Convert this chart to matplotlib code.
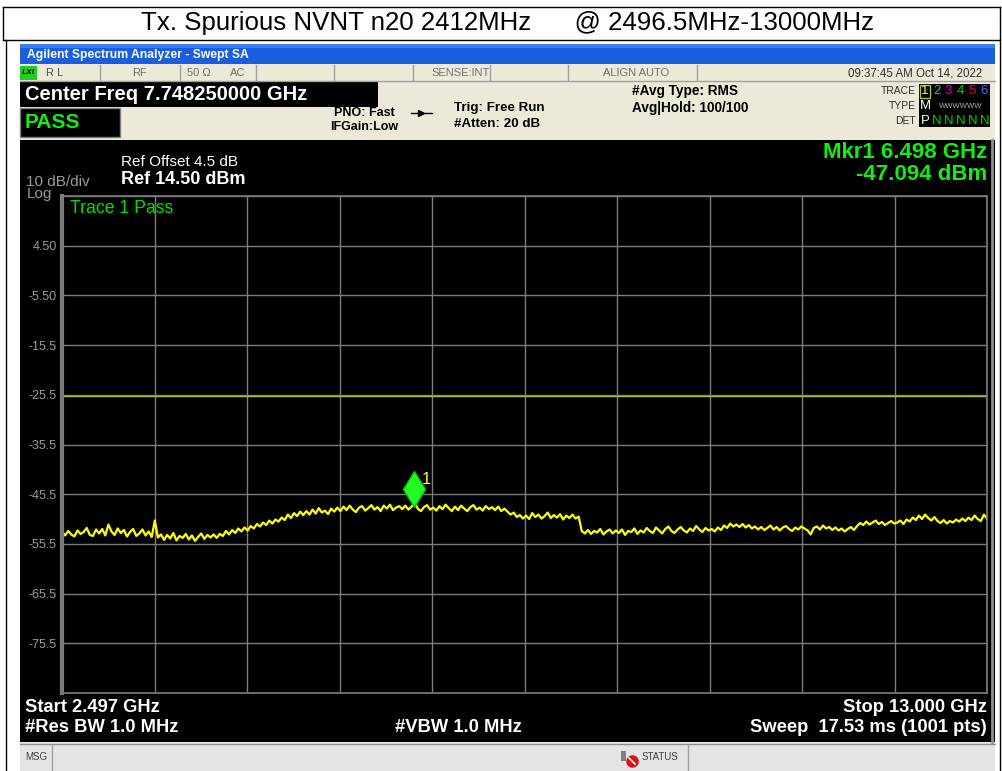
import numpy as np
import matplotlib
matplotlib.use("Agg")
import matplotlib.pyplot as plt
from matplotlib.patches import Rectangle
from matplotlib.transforms import offset_copy

plt.rcParams["font.family"] = ["Liberation Sans", "DejaVu Sans"]

# sweep settings
start_ghz = 2.497
stop_ghz = 13.000
ref_level = 14.5
db_per_div = 10
limit_dbm = -25.8
mkr_ghz = 6.498
mkr_dbm = -47.094

y_tick_values = [14.5, 4.5, -5.5, -15.5, -25.5, -35.5, -45.5, -55.5, -65.5, -75.5, -85.5]
y_tick_labels = ["", "4.50", "-5.50", "-15.5", "-25.5", "-35.5", "-45.5", "-55.5", "-65.5", "-75.5", ""]

# trace 1, estimated from the screen (300 evenly spaced samples across the span)
trace_dbm = [
    -53.0, -53.8, -52.9, -53.6, -54.0, -52.8, -53.5, -53.1, -52.3, -53.7,
    -53.9, -52.6, -53.4, -52.5, -53.8, -51.6, -53.0, -53.7, -52.4, -53.3,
    -52.7, -54.0, -53.1, -52.5, -53.9, -53.4, -52.6, -53.8, -53.0, -54.1,
    -50.8, -54.2, -53.6, -54.7, -53.7, -54.4, -53.3, -54.8, -53.9, -54.3,
    -53.5, -54.6, -53.8, -54.9, -54.1, -53.4, -54.5, -53.7, -54.2, -53.6,
    -54.3, -53.5, -53.9, -52.9, -53.6, -52.7, -53.3, -52.4, -53.0, -52.2,
    -52.8, -51.9, -52.4, -51.5, -52.0, -51.2, -51.7, -50.8, -51.4, -50.6,
    -51.0, -50.2, -50.7, -49.6, -50.3, -49.3, -49.9, -49.0, -49.7, -48.9,
    -49.6, -48.6, -49.4, -48.3, -49.2, -48.8, -49.5, -48.4, -49.0, -48.2,
    -48.9, -48.0, -48.7, -47.8, -48.6, -49.1, -48.2, -47.9, -48.8, -48.3,
    -47.7, -48.6, -48.1, -48.9, -47.8, -48.4, -47.6, -48.7, -48.2, -47.9,
    -48.5, -47.8, -48.6, -48.0, -47.1, -48.4, -48.9, -48.1, -47.7, -48.6,
    -48.2, -48.8, -47.9, -48.5, -47.6, -48.3, -48.9, -48.0, -48.7, -47.8,
    -48.4, -48.9, -48.1, -47.7, -48.6, -48.2, -48.8, -47.9, -48.5, -48.1,
    -48.7, -48.0, -48.9, -48.4, -49.0, -49.6, -49.2, -50.1, -49.7, -50.4,
    -49.8, -50.5, -49.3, -50.1, -49.6, -50.4, -49.9, -49.2, -50.3, -49.7,
    -50.2, -49.5, -50.6, -49.8, -50.3, -49.6, -50.4, -50.0, -52.9, -53.4,
    -52.7, -53.5, -52.9, -53.2, -52.5, -53.6, -53.0, -52.6, -53.4, -52.8,
    -53.3, -52.6, -53.7, -52.9, -53.1, -52.4, -53.5, -52.8, -53.2, -52.3,
    -52.9, -53.3, -52.2, -52.8, -53.4, -52.5, -52.0, -52.9, -53.3, -52.6,
    -52.1, -52.8, -53.2, -52.4, -52.9, -51.9, -52.6, -53.1, -52.3, -52.8,
    -52.5, -53.0, -52.2, -52.7, -51.8, -52.3, -51.4, -52.0, -51.6, -52.1,
    -51.5, -52.2, -51.7, -52.4, -52.0, -52.6, -52.1, -52.7, -52.3, -51.8,
    -52.6, -52.1, -52.8, -52.2, -51.9, -52.5, -52.9, -52.2, -52.6, -52.0,
    -52.4, -52.8, -53.6, -52.3, -52.0, -52.6, -51.8, -52.4, -52.1, -52.7,
    -52.2, -52.8, -52.4, -53.0, -52.5, -52.1, -52.7, -51.9, -51.3, -51.7,
    -51.0, -51.6, -51.2, -50.8, -51.5, -51.1, -51.7, -51.3, -50.9, -51.4,
    -51.2, -50.8, -51.5, -50.6, -51.0, -50.2, -50.7, -49.8, -50.5, -49.6,
    -50.3, -50.8, -50.1, -50.9, -51.3, -50.7, -51.4, -50.9, -51.2, -50.6,
    -51.0, -50.4, -50.9, -50.2, -50.7, -49.8, -50.5, -50.9, -49.6, -50.4,
]
trace_ghz = np.linspace(start_ghz, stop_ghz, len(trace_dbm))

BEIGE = "#ece9d8"
GRID = "#7c7c7c"
LABEL_GRAY = "#9a9a9a"
GREEN = "#10f010"
BIG = 13.2  # bottom annotation size

fig = plt.figure(figsize=(10.03, 7.71), dpi=100)

# background canvas in pixel coordinates (y down)
bg = fig.add_axes([0, 0, 1, 1])
bg.set_xlim(0, 1003)
bg.set_ylim(771, 0)
bg.axis("off")


def rect(x0, y0, x1, y1, fc, ec="none", lw=0):
    bg.add_patch(Rectangle((x0, y0), x1 - x0, y1 - y0, fc=fc, ec=ec, lw=lw))


def txt(x, y, s, size=9, color="black", ha="left", weight="normal", **kw):
    bg.text(x, y, s, fontsize=size, color=color, ha=ha, va="center",
            fontweight=weight, **kw)


# outer report frame + title
bg.plot([3, 1000], [7, 7], color="black", lw=1)
bg.plot([3, 1000], [40, 40], color="black", lw=1)
bg.plot([3, 3], [7, 40], color="black", lw=1)
bg.plot([6, 6], [40, 771], color="black", lw=1)
bg.plot([1000, 1000], [7, 771], color="black", lw=1)
txt(508, 23, "Tx. Spurious NVNT n20 2412MHz      @ 2496.5MHz-13000MHz", size=18.6, ha="center")

# analyzer window title bar
rect(20, 44, 995, 64, "#1a5ee0")
rect(20, 44, 995, 48, "#3d7cf0")
txt(27, 55, "Agilent Spectrum Analyzer - Swept SA", size=8.7, color="white", weight="bold")

# status row
rect(20, 64, 995, 81, BEIGE)
bg.plot([20, 995], [81, 81], color="#a0a0a0", lw=1)
rect(20, 66, 37, 80, "#20d020")
txt(22, 73, "LXI", size=6, weight="bold", style="italic")
for xd in [100, 180, 256, 334, 413, 490, 568, 697]:
    bg.plot([xd, xd], [65, 80], color="#a0a0a0", lw=1)
txt(46, 73, "R L", size=8, color="#505050")
txt(140, 73, "RF", size=8, color="#707070", ha="center")
txt(187, 73, "50 Ω", size=8, color="#707070")
txt(230, 73, "AC", size=8, color="#707070")
txt(431, 73, "SENSE:INT", size=8, color="#707070")
txt(603, 73, "ALIGN AUTO", size=8, color="#707070")
txt(982, 73, "09:37:45 AM Oct 14, 2022", size=8.3, color="#303030", ha="right")

# settings block
rect(20, 81, 995, 140, BEIGE)
rect(20, 82, 378, 107, "black")
txt(25, 94.5, "Center Freq 7.748250000 GHz", size=14.5, color="white", weight="bold")
rect(20, 108, 120, 137, "black", ec="#808080", lw=1)
txt(25, 122, "PASS", size=15, color=GREEN, weight="bold")
txt(364, 113, "PNO: Fast", size=9, weight="bold", ha="center")
txt(364, 127, "IFGain:Low", size=9, weight="bold", ha="center")
bg.plot([411, 432], [113, 113], color="black", lw=1)
bg.plot([421], [113], marker=">", color="black", ms=4)
txt(454, 108, "Trig: Free Run", size=9.6, weight="bold")
txt(454, 124, "#Atten: 20 dB", size=9.6, weight="bold")
txt(632, 91, "#Avg Type: RMS", size=9.8, weight="bold")
txt(632, 108, "Avg|Hold: 100/100", size=9.8, weight="bold")
txt(916, 91, "TRACE", size=7.5, color="#303030", ha="right")
txt(916, 106, "TYPE", size=7.5, color="#303030", ha="right")
txt(916, 121, "DET", size=7.5, color="#303030", ha="right")
rect(919, 84, 990, 127, "black")
rect(920, 85, 930, 98, "none", ec="#a0c040", lw=1)
trace_colors = ["#ffff00", "#00c8c8", "#d000d0", "#00d000", "#e00040", "#6a5cff"]
for k, c in enumerate(trace_colors):
    txt(925 + 11.8 * k, 91.5, str(k + 1), size=9.5, color=c, ha="center")
txt(925, 106, "M", size=9.5, color="white", ha="center")
txt(961, 106, "WWWWWW", size=5.5, color="#b0b0b0", ha="center")
txt(925, 121, "P", size=9.5, color="white", ha="center")
for k in range(5):
    txt(937 + 11.8 * k, 121, "N", size=9.5, color="#00d000", ha="center")

# black screen area
rect(20, 140, 995, 742, "black")
bg.plot([992, 992], [140, 742], color="#909090", lw=2)
txt(26, 182, "10 dB/div", size=11, color=LABEL_GRAY)
txt(27, 194, "Log", size=11, color=LABEL_GRAY)
txt(121, 162, "Ref Offset 4.5 dB", size=11, color="white")
txt(121, 180, "Ref 14.50 dBm", size=13, color="white", weight="bold")
txt(987, 152.5, "Mkr1 6.498 GHz", size=16, color=GREEN, weight="bold", ha="right")
txt(987, 174.5, "-47.094 dBm", size=16, color=GREEN, weight="bold", ha="right")

txt(25, 707, "Start 2.497 GHz", size=BIG, color="white", weight="bold")
txt(987, 707, "Stop 13.000 GHz", size=BIG, color="white", weight="bold", ha="right")
txt(25, 728, "#Res BW 1.0 MHz", size=BIG, color="white", weight="bold")
txt(395, 728, "#VBW 1.0 MHz", size=BIG, color="white", weight="bold")
txt(987, 728, "Sweep  17.53 ms (1001 pts)", size=BIG, color="white", weight="bold", ha="right")

# bottom message bar
rect(20, 742, 995, 771, "#e4e4e4")
bg.plot([20, 995], [744, 744], color="#909090", lw=1)
bg.plot([52, 52], [745, 771], color="#a0a0a0", lw=1)
bg.plot([688, 688], [745, 771], color="#a0a0a0", lw=1)
txt(25, 757, "MSG", size=7, color="#404040")
rect(621, 751, 626, 761, "#808080")
bg.plot([632], [761], marker="o", ms=8, color="#e01010")
bg.plot([629, 635], [758, 764], color="white", lw=1.2)
txt(642, 757, "STATUS", size=7, color="#404040")

# measurement graticule
ax = fig.add_axes([62 / 1003, (771 - 693) / 771, 925 / 1003, 497 / 771])
ax.set_facecolor("black")
ax.set_xlim(start_ghz, stop_ghz)
ax.set_ylim(ref_level - 10 * db_per_div, ref_level)
ax.set_xticks(np.linspace(start_ghz, stop_ghz, 11))
ax.set_yticks(y_tick_values)
ax.set_yticklabels(y_tick_labels)
ax.set_xticklabels([])
ax.tick_params(length=0, labelsize=9, labelcolor=LABEL_GRAY, pad=4)
ax.grid(True, color=GRID, lw=1)
for side, sp in ax.spines.items():
    sp.set_color(GRID)
    sp.set_linewidth(1.2)
ax.spines["left"].set_linewidth(3)

ax.axhline(limit_dbm, color="#b8b830", lw=1)
ax.plot(trace_ghz, trace_dbm, color="#ffff00", lw=1.6)

mk_tr = offset_copy(ax.transData, fig=fig, x=0, y=13, units="dots")
ax.plot([mkr_ghz], [mkr_dbm], marker="d", ms=18, color="#20ff20",
        mec="#10c010", transform=mk_tr)
lab_tr = offset_copy(ax.transData, fig=fig, x=12, y=23, units="dots")
ax.text(mkr_ghz, mkr_dbm, "1", color="#ffff00", fontsize=12,
        ha="center", va="center", transform=lab_tr)
ax.text(0.009, 0.975, "Trace 1 Pass", color="#00e000", fontsize=12.7,
        transform=ax.transAxes, ha="left", va="center")

fig.savefig("out.png", dpi=100, facecolor="white")
